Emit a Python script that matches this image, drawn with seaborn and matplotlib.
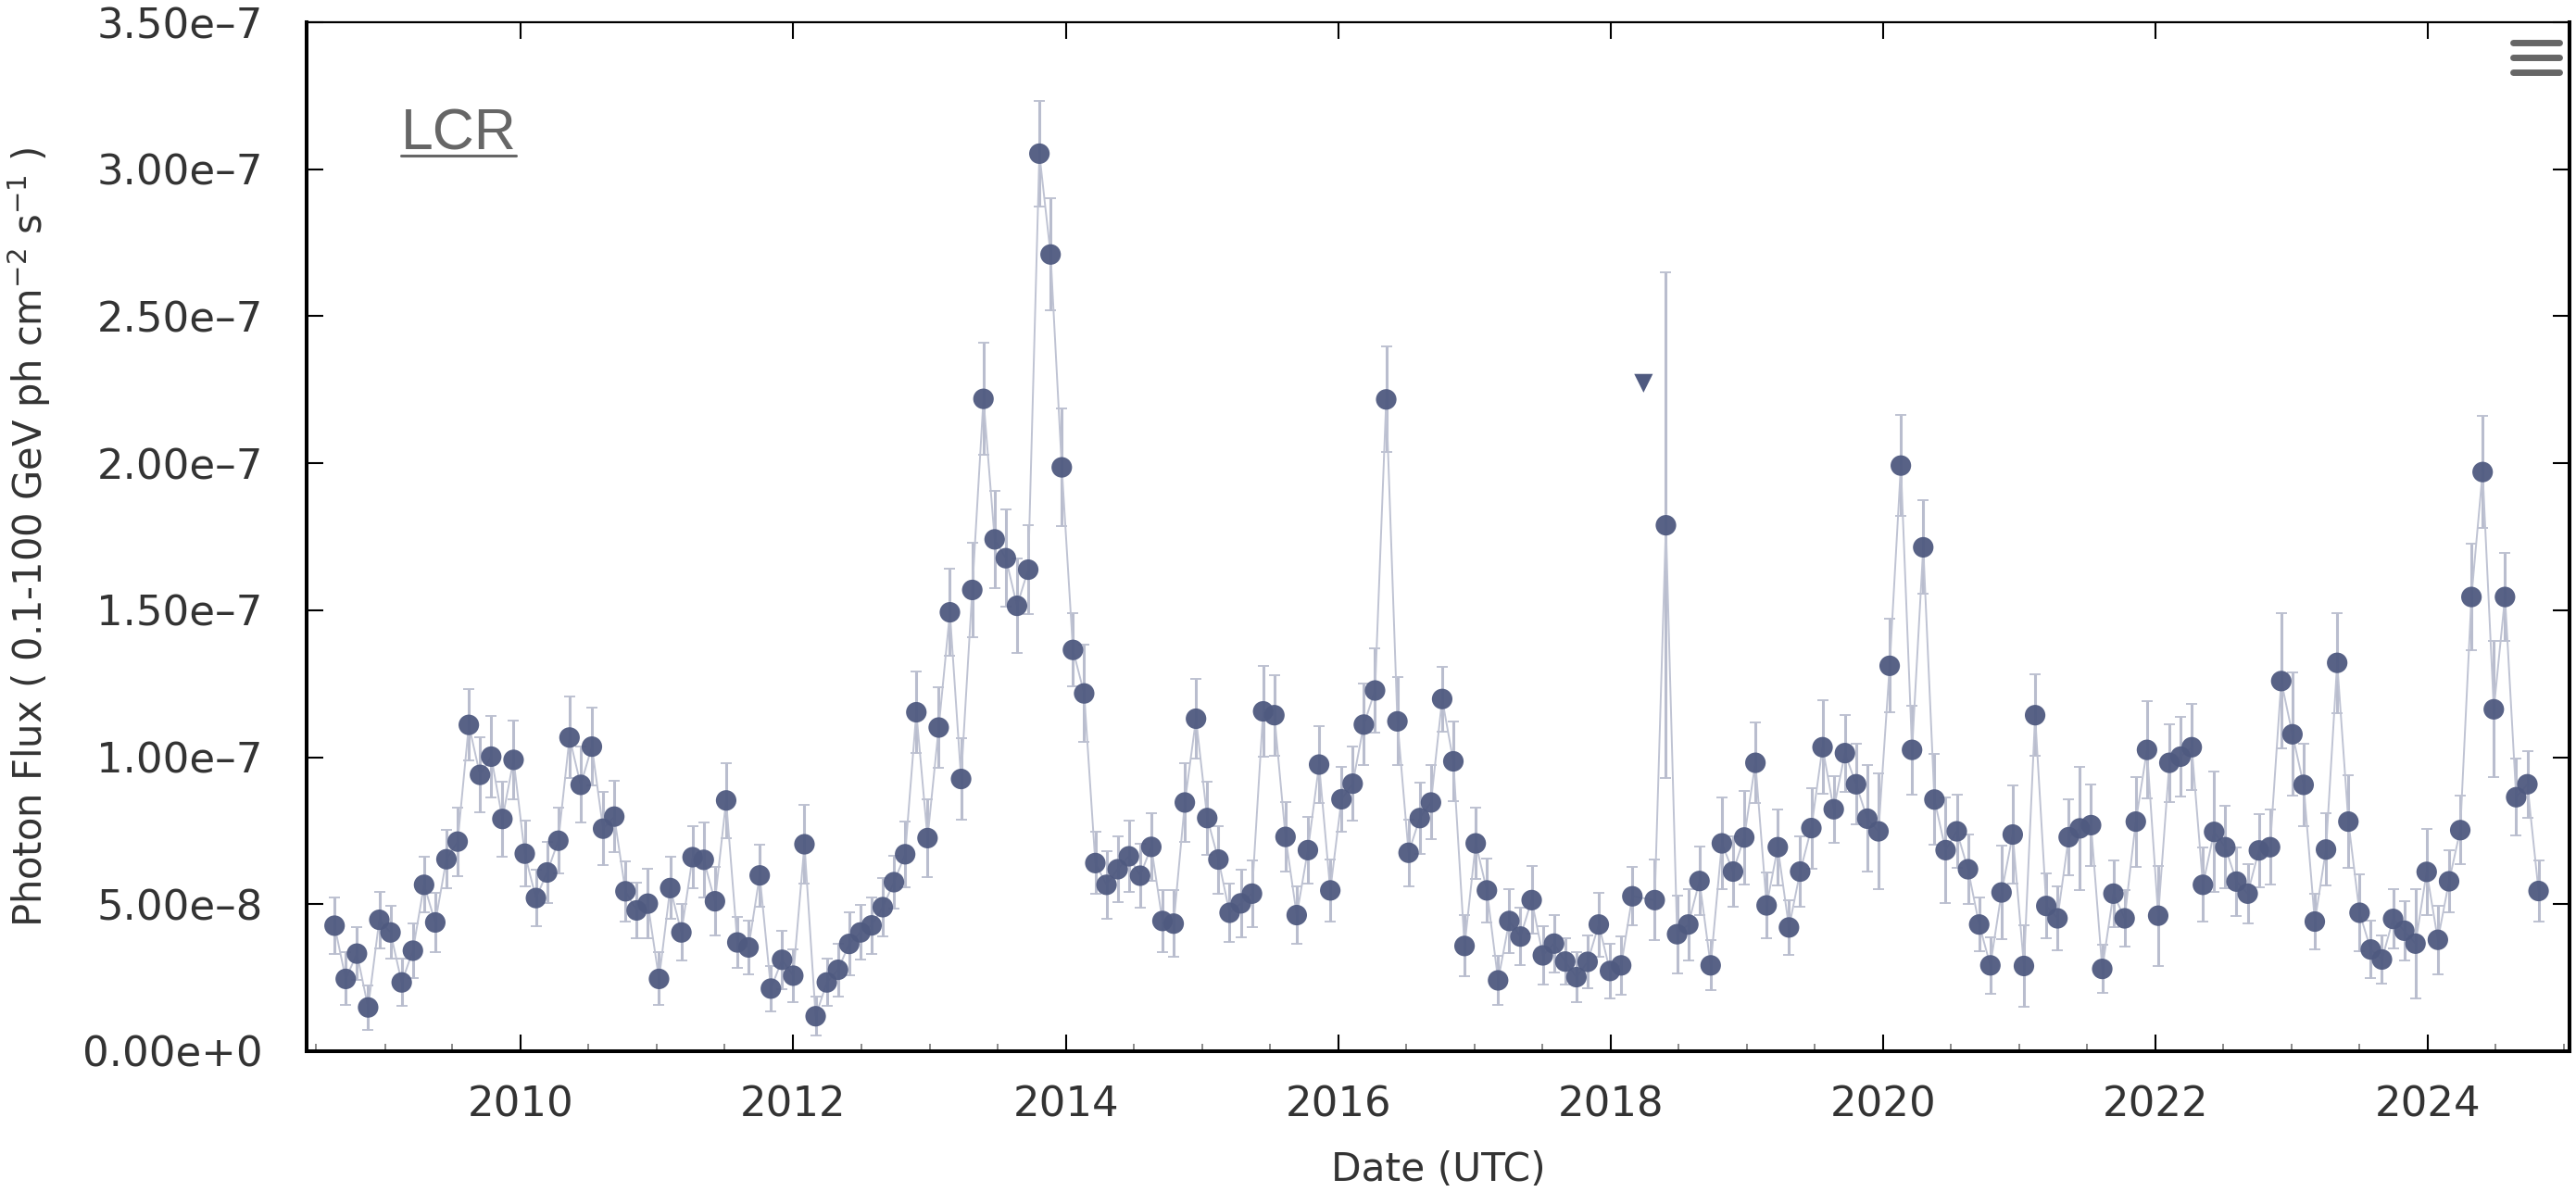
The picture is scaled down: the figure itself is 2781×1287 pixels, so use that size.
import numpy as np
import pandas as pd
import matplotlib
matplotlib.use("Agg")
import matplotlib.pyplot as plt
import matplotlib.dates as mdates
from matplotlib.lines import Line2D
from matplotlib.ticker import FixedLocator, FuncFormatter
import seaborn as sns

# Monthly (30-day) binned photon flux, in units of 1e-7 ph cm^-2 s^-1.
# None marks the bin that only has an upper limit.
flux_e7 = [
    0.427, 0.246, 0.332, 0.149, 0.447, 0.404, 0.234, 0.342, 0.566, 0.438,
    0.653, 0.713, 1.110, 0.940, 1.002, 0.790, 0.991, 0.672, 0.521, 0.608,
    0.716, 1.067, 0.906, 1.036, 0.757, 0.798, 0.544, 0.479, 0.502, 0.246,
    0.555, 0.404, 0.660, 0.651, 0.510, 0.853, 0.370, 0.353, 0.598, 0.213,
    0.311, 0.257, 0.704, 0.119, 0.234, 0.277, 0.365, 0.404, 0.428, 0.490,
    0.575, 0.670, 1.153, 0.725, 1.101, 1.493, 0.926, 1.569, 2.219, 1.741,
    1.677, 1.515, 1.638, 3.053, 2.710, 1.986, 1.365, 1.217, 0.640, 0.566,
    0.619, 0.663, 0.597, 0.695, 0.443, 0.434, 0.846, 1.131, 0.793, 0.652,
    0.471, 0.503, 0.536, 1.156, 1.143, 0.729, 0.463, 0.684, 0.975, 0.547,
    0.857, 0.910, 1.111, 1.227, 2.217, 1.122, 0.675, 0.793, 0.846, 1.198,
    0.986, 0.358, 0.707, 0.547, 0.241, 0.443, 0.390, 0.514, 0.326, 0.366,
    0.305, 0.252, 0.304, 0.431, 0.273, 0.292, 0.527, None, 0.514, 1.789,
    0.398, 0.431, 0.579, 0.292, 0.707, 0.611, 0.727, 0.981, 0.496, 0.694,
    0.421, 0.611, 0.759, 1.034, 0.823, 1.014, 0.908, 0.791, 0.748, 1.311,
    1.992, 1.025, 1.714, 0.856, 0.684, 0.748, 0.619, 0.431, 0.292, 0.540,
    0.737, 0.290, 1.143, 0.494, 0.452, 0.728, 0.758, 0.769, 0.280, 0.536,
    0.452, 0.781, 1.025, 0.461, 0.981, 1.002, 1.034, 0.566, 0.746, 0.694,
    0.577, 0.536, 0.683, 0.694, 1.259, 1.078, 0.906, 0.441, 0.686, 1.321,
    0.781, 0.471, 0.346, 0.312, 0.450, 0.410, 0.366, 0.610, 0.379, 0.578,
    0.752, 1.545, 1.970, 1.163, 1.545, 0.864, 0.908, 0.545,
]

# 1-sigma flux uncertainties, same units.
err_e7 = [
    0.096, 0.090, 0.090, 0.075, 0.096, 0.090, 0.080, 0.094, 0.094, 0.100,
    0.100, 0.117, 0.122, 0.127, 0.139, 0.128, 0.134, 0.112, 0.096, 0.103,
    0.111, 0.138, 0.129, 0.132, 0.124, 0.122, 0.102, 0.095, 0.118, 0.090,
    0.106, 0.096, 0.105, 0.128, 0.116, 0.127, 0.088, 0.090, 0.106, 0.076,
    0.100, 0.090, 0.135, 0.067, 0.080, 0.090, 0.107, 0.093, 0.096, 0.100,
    0.090, 0.112, 0.138, 0.133, 0.137, 0.148, 0.138, 0.160, 0.190, 0.165,
    0.166, 0.160, 0.150, 0.180, 0.190, 0.200, 0.124, 0.165, 0.106, 0.115,
    0.113, 0.120, 0.110, 0.115, 0.105, 0.114, 0.133, 0.137, 0.124, 0.115,
    0.100, 0.114, 0.113, 0.153, 0.137, 0.118, 0.097, 0.113, 0.130, 0.105,
    0.110, 0.127, 0.139, 0.143, 0.180, 0.150, 0.114, 0.122, 0.126, 0.110,
    0.134, 0.104, 0.122, 0.108, 0.085, 0.108, 0.097, 0.115, 0.099, 0.097,
    0.078, 0.085, 0.089, 0.109, 0.092, 0.099, 0.099, None, 0.137, 0.860,
    0.132, 0.121, 0.116, 0.085, 0.155, 0.121, 0.159, 0.137, 0.111, 0.129,
    0.093, 0.120, 0.137, 0.159, 0.113, 0.131, 0.137, 0.181, 0.197, 0.159,
    0.171, 0.151, 0.159, 0.155, 0.180, 0.124, 0.118, 0.092, 0.097, 0.160,
    0.167, 0.138, 0.138, 0.111, 0.110, 0.128, 0.210, 0.138, 0.083, 0.113,
    0.097, 0.153, 0.165, 0.170, 0.132, 0.135, 0.146, 0.126, 0.205, 0.141,
    0.116, 0.100, 0.125, 0.127, 0.230, 0.210, 0.140, 0.093, 0.123, 0.170,
    0.157, 0.130, 0.097, 0.083, 0.100, 0.100, 0.185, 0.147, 0.117, 0.105,
    0.116, 0.180, 0.190, 0.232, 0.150, 0.130, 0.114, 0.103,
]

# 95% upper limit for the one low-significance bin
ul_flux_e7 = [2.272]
ul_bin = [117]

first_bin_center = "2008-08-19"
bin_days = 30

y_ticks_e7 = [0.0, 0.5, 1.0, 1.5, 2.0, 2.5, 3.0, 3.5]
x_limits = ["2008-06-05", "2025-01-15"]

dates = pd.date_range(first_bin_center, periods=len(flux_e7), freq=f"{bin_days}D")
df = pd.DataFrame({
    "date": dates,
    "flux": pd.to_numeric(pd.Series(flux_e7), errors="coerce") * 1e-7,
    "err": pd.to_numeric(pd.Series(err_e7), errors="coerce") * 1e-7,
})
det = df.dropna().reset_index(drop=True)
ul = pd.DataFrame({"date": dates[ul_bin], "flux": np.array(ul_flux_e7) * 1e-7})

sns.set_theme(style="ticks")
plt.rcParams["font.family"] = ["DejaVu Sans"]
plt.rcParams["axes.unicode_minus"] = True

W, H = 2781, 1287
fig = plt.figure(figsize=(W / 100, H / 100), dpi=100)
fig.patch.set_facecolor("white")
ax = fig.add_axes([331 / W, 1 - 1135 / H, (2774 - 331) / W, (1135 - 24) / H])
ax.set_facecolor("white")

marker_color = "#4f5a80"

ax.errorbar(det["date"], det["flux"], yerr=det["err"], fmt="none",
            ecolor="#b9bdce", elinewidth=2.2, capsize=4.0, capthick=1.3, zorder=2)
sns.lineplot(data=det, x="date", y="flux", ax=ax, color="#bfc3d3",
             linewidth=1.4, estimator=None, zorder=3)
sns.scatterplot(data=det, x="date", y="flux", ax=ax, color=marker_color,
                s=255, edgecolor="none", alpha=0.95, zorder=4)
sns.scatterplot(data=ul, x="date", y="flux", ax=ax, color=marker_color,
                marker="v", s=210, edgecolor="none", zorder=4)

ax.set_xlim(pd.Timestamp(x_limits[0]), pd.Timestamp(x_limits[1]))
ax.set_ylim(0, 3.5e-7)

ax.xaxis.set_major_locator(mdates.YearLocator(2))
ax.xaxis.set_major_formatter(mdates.DateFormatter("%Y"))
ax.xaxis.set_minor_locator(mdates.MonthLocator(bymonth=[1, 7]))

ax.yaxis.set_major_locator(FixedLocator([v * 1e-7 for v in y_ticks_e7]))


def sci_label(v, pos):
    if abs(v) < 1e-15:
        return "0.00e+0"
    mant, exp = f"{v:.2e}".split("e")
    exp = int(exp)
    sign = "\u2013" if exp < 0 else "+"
    return f"{mant}e{sign}{abs(exp)}"


ax.yaxis.set_major_formatter(FuncFormatter(sci_label))

for side in ["left", "bottom", "right"]:
    ax.spines[side].set_visible(True)
    ax.spines[side].set_linewidth(2.9)
    ax.spines[side].set_color("black")
ax.spines["top"].set_visible(True)
ax.spines["top"].set_linewidth(1.6)
ax.spines["top"].set_color("black")

ax.tick_params(axis="both", which="major", direction="in", length=13, width=1.5,
               color="black", labelsize=32.4, labelcolor="#333333",
               top=True, right=True)
ax.tick_params(axis="x", which="major", pad=26)
ax.tick_params(axis="y", which="major", pad=34)
ax.tick_params(axis="x", which="minor", direction="in", length=6, width=1.2,
               color="#777777", top=False)
ax.tick_params(axis="y", which="minor", left=False, right=False)

ax.set_xlabel("Date (UTC)", fontsize=30.5, color="#333333", va="center")
ax.xaxis.set_label_coords(0.5, (1135 - 1263) / (1135 - 24))
ax.set_ylabel("Photon Flux ( 0.1-100 GeV ph cm$^{-2}$ s$^{-1}$ )",
              fontsize=30, color="#333333", va="center")
ax.yaxis.set_label_coords((31 - 331) / (2774 - 331), 0.5)

# Panel tag
fig.text(433 / W, 1 - 162 / H, "LCR", fontsize=45, color="#666666",
         family=["Liberation Sans", "DejaVu Sans"], ha="left", va="baseline")
fig.add_artist(Line2D([433 / W, 557 / W], [1 - 168 / H] * 2,
                      color="#666666", linewidth=2.2))

# Menu icon in the top-right corner
for yy in [45.6, 61.8, 77.9]:
    fig.add_artist(Line2D([2713 / W, 2763 / W], [1 - yy / H] * 2,
                          color="#666666", linewidth=5.0,
                          solid_capstyle="round"))

fig.savefig("out.png", dpi=100, facecolor="white")
